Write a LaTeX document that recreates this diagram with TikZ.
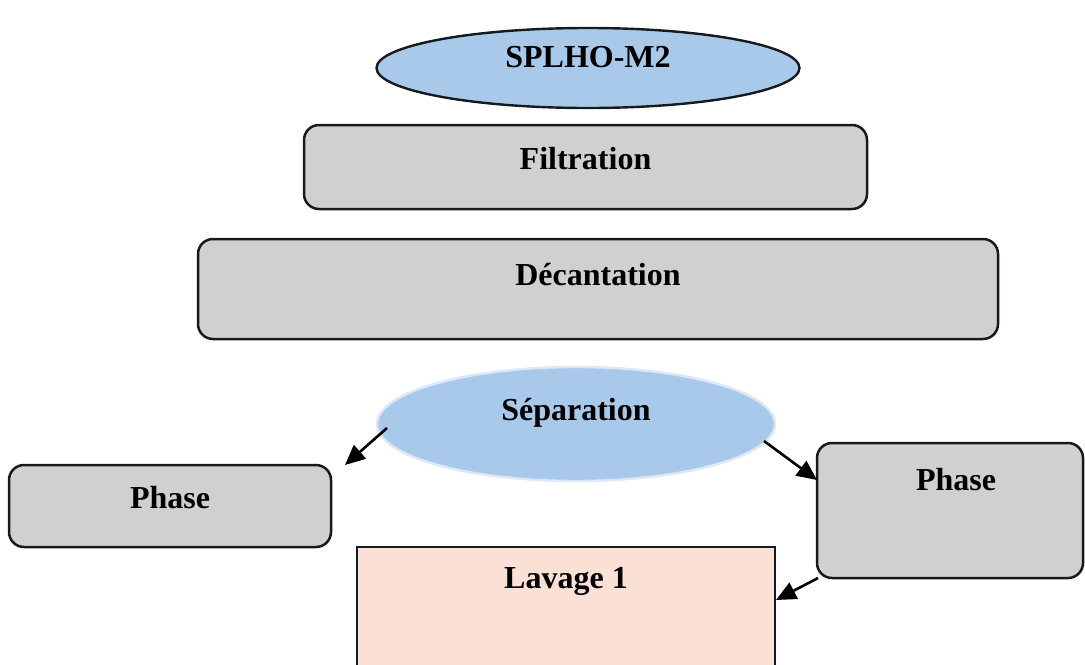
\documentclass[tikz,border=0pt]{standalone}
\usepackage{fontspec}
\setmainfont{Liberation Serif}
\usetikzlibrary{shapes.geometric,arrows.meta}
\definecolor{ellblue}{HTML}{A9C9EB}
\definecolor{elledge}{HTML}{DCE8F6}
\definecolor{boxgray}{HTML}{D0D0D0}
\definecolor{peach}{HTML}{FAE0D5}
\definecolor{edgedark}{HTML}{141A1E}
\tikzset{
  ell/.style={ellipse,draw=edgedark,line width=1.2pt,fill=ellblue,inner sep=0pt},
  gbox/.style={rectangle,rounded corners=7.5pt,draw=edgedark,line width=1.25pt,fill=boxgray,inner sep=0pt},
  lbl/.style={font=\bfseries\fontsize{16}{19}\selectfont,inner sep=0pt},
  arr/.style={line width=1.3pt,-{Triangle[length=10pt,width=9pt]}}
}
\begin{document}
\begin{tikzpicture}[x=0.5pt,y=-0.5pt]
\useasboundingbox (0,0) rectangle (1085,664);
\fill[white] (0,0) rectangle (1085,664);
% top ellipse
\node[ell,minimum width=211.5pt,minimum height=40pt] (splho) at (588,68) {};
\node[lbl] (tsplho) at (588,57) {SPLHO-M2};
% filtration
\node[gbox,minimum width=281.5pt,minimum height=42pt] (filt) at (585.5,167) {};
\node[lbl] (tfilt) at (585.5,159) {Filtration};
% decantation
\node[gbox,minimum width=400pt,minimum height=50pt] (dec) at (598,289) {};
\node[lbl] (tdec) at (598,275) {Décantation};
% separation
\node[ellipse,draw=elledge,line width=1.2pt,fill=ellblue,inner sep=0pt,minimum width=199pt,minimum height=57pt] (sep) at (576,424) {};
\node[lbl] (tsep) at (576,413) {Séparation};
% phase left
\node[gbox,minimum width=161pt,minimum height=41pt] (phl) at (170,506) {};
\node[lbl] (tphl) at (170,498) {Phase};
% phase right
\node[gbox,minimum width=133pt,minimum height=67.5pt] (phr) at (950,510.5) {};
\node[lbl] (tphr) at (956,480) {Phase};
% lavage
\node[rectangle,draw=edgedark,line width=1.3pt,fill=peach,minimum width=209pt,minimum height=76.5pt,inner sep=0pt] (lav) at (566,623.5) {};
\node[lbl] (tlav) at (566,581) {Lavage 1};
% arrows
\coordinate (a1s) at (387,428);
\coordinate (a1e) at (345,465);
\coordinate (a2s) at (764,441);
\coordinate (a2e) at (817,480);
\coordinate (a3s) at (818,578);
\coordinate (a3e) at (776,600);
\draw[arr] (a1s) -- (a1e);
\draw[arr] (a2s) -- (a2e);
\draw[arr] (a3s) -- (a3e);
\end{tikzpicture}
\end{document}
